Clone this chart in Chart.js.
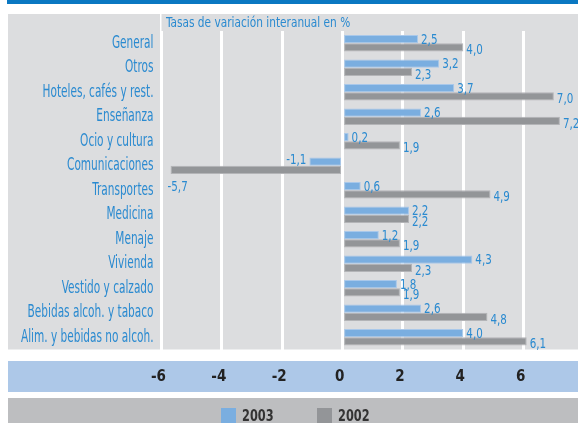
<!DOCTYPE html>
<html>
<head>
<meta charset="utf-8">
<script src="https://cdn.jsdelivr.net/npm/chart.js@4"></script>
<style>
  html, body { margin: 0; padding: 0; background: #fff; }
  #wrap { width: 578px; height: 423px; }
</style>
</head>
<body>
<div id="wrap"><canvas id="ipcChart" width="578" height="423"></canvas></div>
<script>
// Data
const categories = [
  "General", "Otros", "Hoteles, cafés y rest.", "Enseñanza", "Ocio y cultura",
  "Comunicaciones", "Transportes", "Medicina", "Menaje", "Vivienda",
  "Vestido y calzado", "Bebidas alcoh. y tabaco", "Alim. y bebidas no alcoh."
];
const values2003 = [2.5, 3.2, 3.7, 2.6, 0.2, -1.1, 0.6, 2.2, 1.2, 4.3, 1.8, 2.6, 4.0];
const values2002 = [4.0, 2.3, 7.0, 7.2, 1.9, -5.7, 4.9, 2.2, 1.9, 2.3, 1.9, 4.8, 6.1];
const seriesNames = ["2003", "2002"];
const chartTitle = "Tasas de variación interanual en %";

const CONDENSED = "'DejaVu Sans Condensed', 'DejaVu Sans', sans-serif";
const BLUE = "#7aaee0";
const GREY = "#939598";
const LABEL_BLUE = "#2a8ad0";

// the original uses a very narrow face, so squeeze text horizontally
function narrowText(ctx, text, x, y, align, k) {
  ctx.save();
  ctx.translate(x, y);
  ctx.scale(k, 1);
  ctx.textAlign = align;
  ctx.fillText(text, 0, 0);
  ctx.restore();
}

// Backgrounds: top strip, label panel, plot panel, axis band, legend band
const backdrop = {
  id: "backdrop",
  beforeDraw(chart) {
    const { ctx, chartArea } = chart;
    ctx.save();
    ctx.fillStyle = "#ffffff";
    ctx.fillRect(0, 0, chart.width, chart.height);
    ctx.fillStyle = "#0a78c2";
    ctx.fillRect(7, 0, chart.width - 7, 4);
    ctx.fillStyle = "#dcdddf";
    ctx.fillRect(8, 14, 152, chartArea.bottom - 14);
    ctx.fillRect(chartArea.left, 14, chartArea.right - chartArea.left, chartArea.bottom - 14);
    ctx.fillStyle = "#adc8e8";
    ctx.fillRect(8, 361, chart.width - 8, 31);
    ctx.fillStyle = "#bdbec0";
    ctx.fillRect(8, 398, chart.width - 8, chart.height - 398);
    ctx.restore();
  },
  // title sits on its own grey patch over the gridlines
  beforeDatasetsDraw(chart) {
    const { ctx } = chart;
    ctx.save();
    ctx.font = "14px " + CONDENSED;
    const k = 0.84;
    const w = ctx.measureText(chartTitle).width * k;
    ctx.fillStyle = "#dcdddf";
    ctx.fillRect(164, 14, w + 4, 17);
    ctx.fillStyle = LABEL_BLUE;
    ctx.textBaseline = "middle";
    narrowText(ctx, chartTitle, 166, 23, "left", k);
    ctx.restore();
  }
};

// Squeeze the category labels of the y axis
const narrowAxis = {
  id: "narrowAxis",
  afterLayout(chart) {
    const ys = chart.scales.y;
    if (ys._narrowed) return;
    const orig = ys.drawLabels.bind(ys);
    ys.drawLabels = function (area) {
      const c = this.ctx;
      c.save();
      c.font = "17px " + CONDENSED;
      const k = 111 / c.measureText(categories[2]).width;
      const ax = this.right - this.options.ticks.padding;
      c.translate(ax, 0);
      c.scale(k, 1);
      c.translate(-ax, 0);
      // widen the label clip so the squeezed text is not cut
      const left = this.left;
      this.left = -1000;
      orig(area);
      this.left = left;
      c.restore();
    };
    ys._narrowed = true;
  }
};

// Value labels at the end of each bar (decimal comma)
const valueLabels = {
  id: "valueLabels",
  afterDatasetsDraw(chart) {
    const { ctx, chartArea } = chart;
    const k = 0.82;
    ctx.save();
    ctx.font = "14px " + CONDENSED;
    ctx.fillStyle = LABEL_BLUE;
    ctx.textBaseline = "middle";
    chart.data.datasets.forEach((ds, di) => {
      const meta = chart.getDatasetMeta(di);
      meta.data.forEach((bar, i) => {
        const v = ds.data[i];
        const txt = v.toFixed(1).replace(".", ",");
        const dy = di === 0 ? 1 : 3;
        if (v >= 0) {
          narrowText(ctx, txt, bar.x + 3, bar.y + dy, "left", k);
        } else {
          const w = ctx.measureText(txt).width * k;
          if (bar.x - 3 - w < chartArea.left) {
            narrowText(ctx, txt, bar.x - 3, bar.y + 17, "left", k);
          } else {
            narrowText(ctx, txt, bar.x - 3, bar.y - 1, "right", k);
          }
        }
      });
    });
    ctx.restore();
  }
};

// Legend in the bottom band
const bandLegend = {
  id: "bandLegend",
  afterDraw(chart) {
    const { ctx } = chart;
    const colors = [BLUE, GREY];
    const xs = [221, 317];
    ctx.save();
    ctx.font = "bold 15px " + CONDENSED;
    ctx.textBaseline = "middle";
    seriesNames.forEach((name, i) => {
      ctx.fillStyle = colors[i];
      ctx.fillRect(xs[i], 408, 15, 16);
      ctx.fillStyle = "#333333";
      narrowText(ctx, name, xs[i] + 21, 417, "left", 0.84);
    });
    ctx.restore();
  }
};

const ctx = document.getElementById("ipcChart").getContext("2d");
new Chart(ctx, {
  type: "bar",
  data: {
    labels: categories,
    datasets: [
      {
        label: seriesNames[0],
        data: values2003,
        backgroundColor: BLUE,
        borderColor: "#a9c8ea",
        borderWidth: 1,
        borderSkipped: false
      },
      {
        label: seriesNames[1],
        data: values2002,
        backgroundColor: GREY,
        borderColor: "#b3b4b7",
        borderWidth: 1,
        borderSkipped: false
      }
    ]
  },
  options: {
    indexAxis: "y",
    responsive: false,
    animation: false,
    devicePixelRatio: 1,
    categoryPercentage: 0.68,
    barPercentage: 1.0,
    layout: { padding: { top: 31, left: 0, right: 0, bottom: 0 } },
    plugins: {
      legend: { display: false },
      title: { display: false },
      tooltip: { enabled: false }
    },
    scales: {
      x: {
        type: "linear",
        min: -6,
        max: 7.8,
        afterFit(scale) { scale.height = 73.5; },
        border: { display: false },
        grid: { color: "#ffffff", lineWidth: 3, drawTicks: false },
        ticks: {
          stepSize: 2,
          includeBounds: false,
          padding: 19,
          labelOffset: -3,
          color: "#222222",
          font: { family: CONDENSED, size: 15, weight: "bold" }
        }
      },
      y: {
        afterFit(scale) { scale.width = 161.5; },
        border: { display: false },
        grid: { display: false, drawTicks: false },
        ticks: {
          padding: 8,
          color: LABEL_BLUE,
          font: { family: CONDENSED, size: 17 }
        }
      }
    }
  },
  plugins: [backdrop, narrowAxis, valueLabels, bandLegend]
});
</script>
</body>
</html>
